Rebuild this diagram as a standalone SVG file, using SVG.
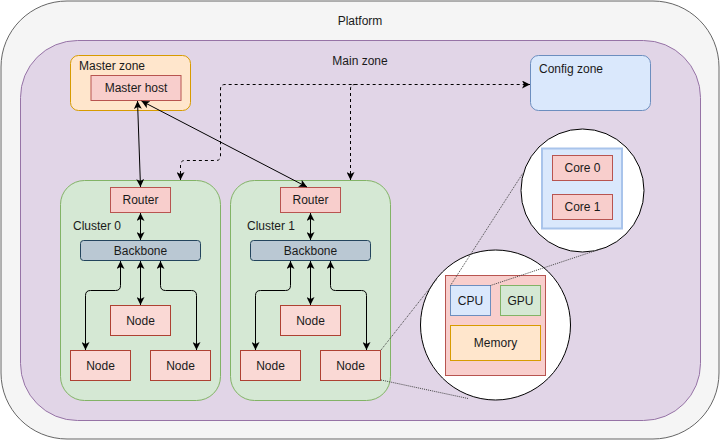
<svg xmlns="http://www.w3.org/2000/svg" width="721" height="441" viewBox="0 0 721 441">
<style>
text{font-family:"Liberation Sans",Arial,sans-serif;font-size:12px;fill:#1a1a1a}
.c{text-anchor:middle}
.red{fill:#f8cecc;stroke:#b85450}
.node{fill:#fad9d5;stroke:#ae4132}
.cl{fill:#d5e8d4;stroke:#82b366}
.bb{fill:#bac8d3;stroke:#23445d}
.ln{fill:none;stroke:#000;stroke-width:1}
.dash{fill:none;stroke:#000;stroke-width:1;stroke-dasharray:3 3}
.dot{fill:none;stroke:#444;stroke-width:1;stroke-dasharray:1 1}
</style>
<defs>
<marker id="a" viewBox="0 0 8 8" refX="8" refY="4" markerWidth="8" markerHeight="8" markerUnits="userSpaceOnUse" orient="auto-start-reverse">
<path d="M0,0 L8,4 L0,8 L2,4 z" fill="#000"/>
</marker>
</defs>
<g id="platform">
<rect x="1" y="1" width="718" height="438" rx="66" ry="66" fill="#f5f5f5" stroke="#666"/>
<text class="c" x="360" y="25">Platform</text>
</g>
<g id="main-zone">
<rect x="20.5" y="40.5" width="680" height="380" rx="57" ry="57" fill="#e1d5e7" stroke="#9673a6"/>
<text class="c" x="360" y="65">Main zone</text>
</g>
<g id="master-zone">
<rect x="70.5" y="55.5" width="120" height="55" rx="8" ry="8" fill="#ffe6cc" stroke="#d79b00"/>
<text x="79" y="70">Master zone</text>
</g>
<g id="master-host">
<rect x="91" y="75.5" width="90" height="25" class="red"/>
<text class="c" x="136" y="92">Master host</text>
</g>
<g id="config-zone">
<rect x="530.5" y="55.5" width="120" height="55" rx="8" ry="8" fill="#dae8fc" stroke="#6c8ebf"/>
<text x="539" y="73">Config zone</text>
</g>
<g id="cluster-0">
<rect x="60.5" y="180.5" width="160" height="220" rx="24" ry="24" class="cl"/>
<text x="73" y="230">Cluster 0</text>
</g>
<g id="cluster-1">
<rect x="230.5" y="180.5" width="160" height="220" rx="24" ry="24" class="cl"/>
<text x="247" y="230">Cluster 1</text>
</g>
<g id="router-0"><rect x="110.5" y="187.5" width="60" height="25" class="red"/><text class="c" x="140.5" y="204">Router</text></g>
<g id="router-1"><rect x="280.5" y="187.5" width="60" height="25" class="red"/><text class="c" x="310.5" y="204">Router</text></g>
<g id="backbone-0"><rect x="80.5" y="240.5" width="120" height="20" rx="3" ry="3" class="bb"/><text class="c" x="140.5" y="254.5">Backbone</text></g>
<g id="backbone-1"><rect x="250.5" y="240.5" width="120" height="20" rx="3" ry="3" class="bb"/><text class="c" x="310.5" y="254.5">Backbone</text></g>
<g id="node-0-mid"><rect x="110.5" y="305.5" width="60" height="30" class="node"/><text class="c" x="140.5" y="325">Node</text></g>
<g id="node-0-left"><rect x="70.5" y="350.5" width="60" height="30" class="node"/><text class="c" x="100.5" y="370">Node</text></g>
<g id="node-0-right"><rect x="150.5" y="350.5" width="60" height="30" class="node"/><text class="c" x="180.5" y="370">Node</text></g>
<g id="node-1-mid"><rect x="280.5" y="305.5" width="60" height="30" class="node"/><text class="c" x="310.5" y="325">Node</text></g>
<g id="node-1-left"><rect x="240.5" y="350.5" width="60" height="30" class="node"/><text class="c" x="270.5" y="370">Node</text></g>
<g id="node-1-right"><rect x="320.5" y="350.5" width="60" height="30" class="node"/><text class="c" x="350.5" y="370">Node</text></g>
<g id="zoom-circle-cpu">
<circle cx="582.5" cy="190.5" r="61.5" fill="#fff" stroke="#000"/>
<rect x="542" y="148.5" width="80" height="80" fill="#dae8fc" stroke="#a9c4eb" stroke-width="2"/>
</g>
<g id="core-0"><rect x="552.5" y="155.5" width="60" height="25" class="red"/><text class="c" x="582.5" y="172">Core 0</text></g>
<g id="core-1"><rect x="552.5" y="194.5" width="60" height="25" class="red"/><text class="c" x="582.5" y="211">Core 1</text></g>
<g id="zoom-circle-node">
<circle cx="495.5" cy="325" r="75" fill="#fff" stroke="#000"/>
<rect x="445.5" y="275.5" width="100" height="100" class="red"/>
</g>
<g id="cpu"><rect x="450.5" y="285.5" width="40" height="30" fill="#dae8fc" stroke="#6c8ebf"/><text class="c" x="470.5" y="305">CPU</text></g>
<g id="gpu"><rect x="500.5" y="285.5" width="40" height="30" fill="#d5e8d4" stroke="#82b366"/><text class="c" x="520.5" y="305">GPU</text></g>
<g id="memory"><rect x="450.5" y="325.5" width="90" height="35" fill="#ffe6cc" stroke="#d79b00"/><text class="c" x="495.5" y="347">Memory</text></g>
<g id="connectors">
<path class="dash" d="M180.5,180 L180.5,165 Q180.5,160.5 185,160.5 L216,160.5 Q220.5,160.5 220.5,156 L220.5,89 Q220.5,84.5 225,84.5 L530,84.5" marker-start="url(#a)" marker-end="url(#a)"/>
<path class="dash" d="M350.5,180 L350.5,89 Q350.5,84.5 355,84.5" marker-start="url(#a)"/>
<path class="ln" d="M137.5,101 L140.5,187" marker-start="url(#a)" marker-end="url(#a)"/>
<path class="ln" d="M141.5,101 L307,187" marker-start="url(#a)" marker-end="url(#a)"/>
<path class="ln" d="M140.5,213 L140.5,240" marker-start="url(#a)" marker-end="url(#a)"/>
<path class="ln" d="M140.5,261 L140.5,305" marker-start="url(#a)" marker-end="url(#a)"/>
<path class="ln" d="M120.5,261 L120.5,285.5 Q120.5,290.5 115.5,290.5 L90.5,290.5 Q85.5,290.5 85.5,295.5 L85.5,350" marker-start="url(#a)" marker-end="url(#a)"/>
<path class="ln" d="M160.5,261 L160.5,285.5 Q160.5,290.5 165.5,290.5 L191.5,290.5 Q196.5,290.5 196.5,295.5 L196.5,350" marker-start="url(#a)" marker-end="url(#a)"/>
<path class="ln" d="M310.5,213 L310.5,240" marker-start="url(#a)" marker-end="url(#a)"/>
<path class="ln" d="M310.5,261 L310.5,305" marker-start="url(#a)" marker-end="url(#a)"/>
<path class="ln" d="M290.5,261 L290.5,285.5 Q290.5,290.5 285.5,290.5 L260.5,290.5 Q255.5,290.5 255.5,295.5 L255.5,350" marker-start="url(#a)" marker-end="url(#a)"/>
<path class="ln" d="M330.5,261 L330.5,285.5 Q330.5,290.5 335.5,290.5 L361.5,290.5 Q366.5,290.5 366.5,295.5 L366.5,350" marker-start="url(#a)" marker-end="url(#a)"/>
<path class="dot" d="M381,350 L437,279"/>
<path class="dot" d="M381,380 L468,398.5"/>
<path class="dot" d="M450.5,285.5 L523,173"/>
<path class="dot" d="M490.5,285.5 L602,248.5"/>
</g>
</svg>
